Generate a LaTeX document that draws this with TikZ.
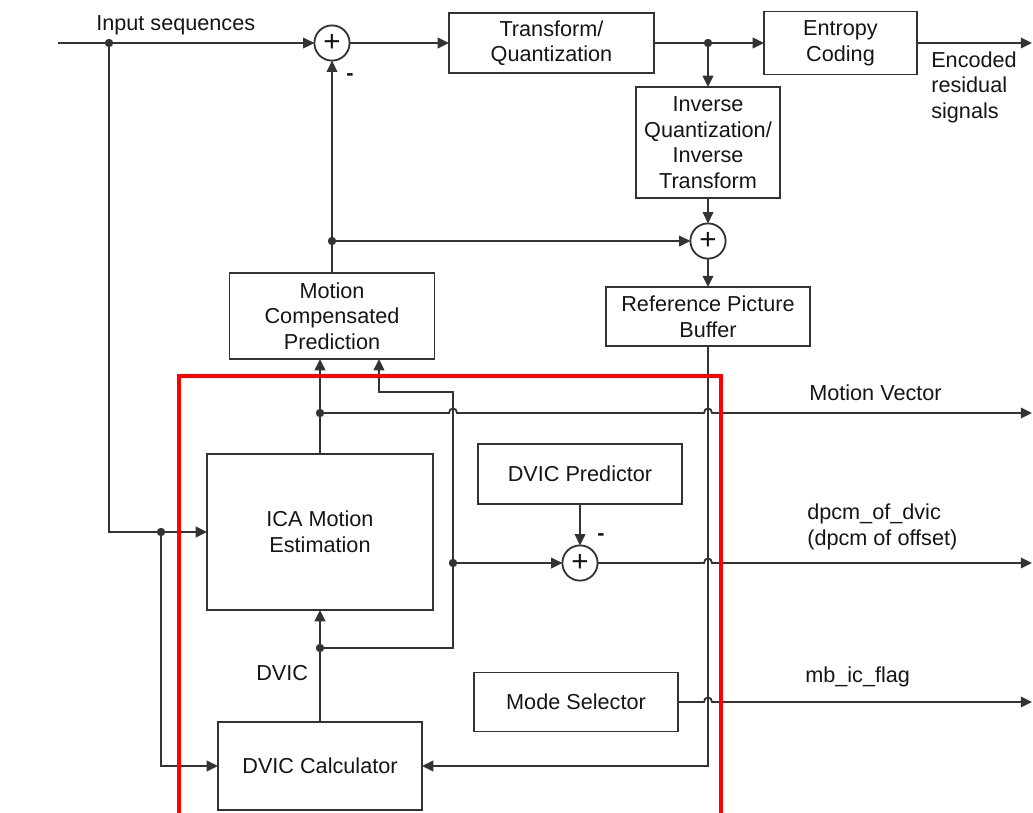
\documentclass[tikz,border=0pt]{standalone}
\usepackage{fontspec}
\setmainfont{Liberation Sans}
\usetikzlibrary{arrows.meta,calc}
\definecolor{inkL}{HTML}{333333}
\definecolor{inkT}{HTML}{151515}
\definecolor{frameR}{HTML}{FF0000}
\newcommand\dfont{\fontsize{15.4}{18.2}\selectfont}
\tikzset{
  blk/.style={draw=inkL, line width=1.3pt, inner sep=0pt, outer sep=0pt,
              align=center, font=\dfont, text=inkT},
  sumnode/.style={circle, draw=inkL, line width=1.3pt, minimum size=0.88cm,
                  inner sep=0pt, outer sep=0pt, font=\fontsize{21}{21}\selectfont, text=inkT},
  flow/.style={-{Triangle[length=8pt,width=7.5pt]}, line width=1.3pt, color=inkL},
  siglab/.style={font=\dfont, text=inkT, inner sep=0pt, align=left},
}
\begin{document}
\begin{tikzpicture}[x=0.025cm, y=-0.025cm]
  \useasboundingbox (0,0) rectangle (1033,812);
  % blocks
  \node[blk, minimum width=5.125cm, minimum height=1.5cm] (tq) at (551.5,43) {Transform/\\Quantization};
  \node[blk, minimum width=3.825cm, minimum height=1.575cm] (ec) at (840.5,43) {Entropy\\Coding};
  \node[blk, minimum width=3.6cm, minimum height=2.775cm] (iq) at (708,142.5)
    {Inverse\\Quantization/\\Inverse\\Transform};
  \node[blk, minimum width=5.1cm, minimum height=1.475cm] (rpb) at (708,316.5) {Reference Picture\\Buffer};
  \node[blk, minimum width=5.125cm, minimum height=2.15cm] (mcp) at (332,316) {Motion\\Compensated\\Prediction};
  \node[blk, minimum width=5.65cm, minimum height=3.9cm] (ica) at (320,532) {ICA Motion\\Estimation};
  \node[blk, minimum width=5.1cm, minimum height=1.5cm] (dvp) at (580,474) {DVIC Predictor};
  \node[blk, minimum width=5.1cm, minimum height=1.475cm] (ms) at (576,702) {Mode Selector};
  \node[blk, minimum width=5.1cm, minimum height=2.2cm] (dvc) at (320,766) {DVIC Calculator};
  % adders
  \node[sumnode] (sumA) at (332,43) {+};
  \node[sumnode] (sumB) at (708,241) {+};
  \node[sumnode] (sumC) at (580,563) {+};
  % branch points and corners
  \coordinate (src) at (58,43);
  \coordinate (jIn) at (109,43);
  \coordinate (jIca) at (161,532);
  \coordinate (jTq) at (708,43);
  \coordinate (jMc) at (332,241);
  \coordinate (jMv) at (320,413);
  \coordinate (jDv) at (320,648);
  \coordinate (jLp) at (453,563);
  \coordinate (kLp) at (453,392);
  \coordinate (kMc) at (379,392);
  \coordinate (kRb) at (708,766);
  \coordinate (outRes) at (1032,43);
  \coordinate (outMv) at (1032,413);
  \coordinate (outDp) at (1032,563);
  \coordinate (outIc) at (1032,702);
  \coordinate (hA) at (453,413);
  \coordinate (hB) at (708,413);
  \coordinate (hC) at (708,563);
  \coordinate (hD) at (708,702);
  % connectors
  \draw[flow] (src) -- (sumA);
  \draw[flow] (jIn) |- (ica.west);
  \draw[flow] (jIca) |- (dvc.west);
  \draw[flow] (sumA) -- (tq);
  \draw[flow] (tq) -- (ec);
  \draw[flow] (jTq) -- (iq);
  \draw[flow] (ec) -- (outRes);
  \draw[flow] (iq) -- (sumB);
  \draw[flow] (sumB) -- (rpb);
  \draw[flow] (mcp) -- (sumA);
  \draw[flow] (jMc) -- (sumB);
  \draw[flow] (ica.north) -- (ica.north |- mcp.south);
  \draw[flow] (dvc) -- (ica);
  \draw[flow] (jDv) -| (jLp) -- (kLp) -- (kMc) -- (kMc |- mcp.south);
  \draw[flow] (jLp) -- (sumC);
  \draw[flow] (dvp) -- (sumC);
  \draw[flow] (rpb) -- (kRb) -- (dvc.east);
  \draw[flow] (jMv) -- ($(hA)+(-4,0)$) .. controls +(0,-6) and +(0,-6) .. ($(hA)+(4,0)$)
    -- ($(hB)+(-4,0)$) .. controls +(0,-6) and +(0,-6) .. ($(hB)+(4,0)$) -- (outMv);
  \draw[flow] (sumC) -- ($(hC)+(-4,0)$) .. controls +(0,-6) and +(0,-6) .. ($(hC)+(4,0)$) -- (outDp);
  \draw[flow] (ms) -- ($(hD)+(-4,0)$) .. controls +(0,-6) and +(0,-6) .. ($(hD)+(4,0)$) -- (outIc);
  \foreach \p in {jIn,jIca,jTq,jMc,jMv,jDv,jLp}
    \fill[inkL] (\p) circle (4.2);
  % labels
  \node[siglab, anchor=west] (lIn) at (96,25) {Input sequences};
  \node[siglab] (lMinA) at (350,77) {\textbf{-}};
  \node[siglab] (lMinC) at (601,537) {\textbf{-}};
  \node[siglab, anchor=west] (lRes) at (931,87) {Encoded\\residual\\signals};
  \node[siglab, anchor=west] (lMv) at (809,393) {Motion Vector};
  \node[siglab, anchor=west] (lDp) at (807,527) {dpcm\_of\_dvic\\(dpcm of offset)};
  \node[siglab, anchor=west] (lIc) at (805,677) {mb\_ic\_flag};
  \node[siglab, anchor=west] (lDv) at (256,673) {DVIC};
  % highlighted part
  \draw[frameR, line width=2.8pt] (179,376) rectangle (721,830);
\end{tikzpicture}
\end{document}
